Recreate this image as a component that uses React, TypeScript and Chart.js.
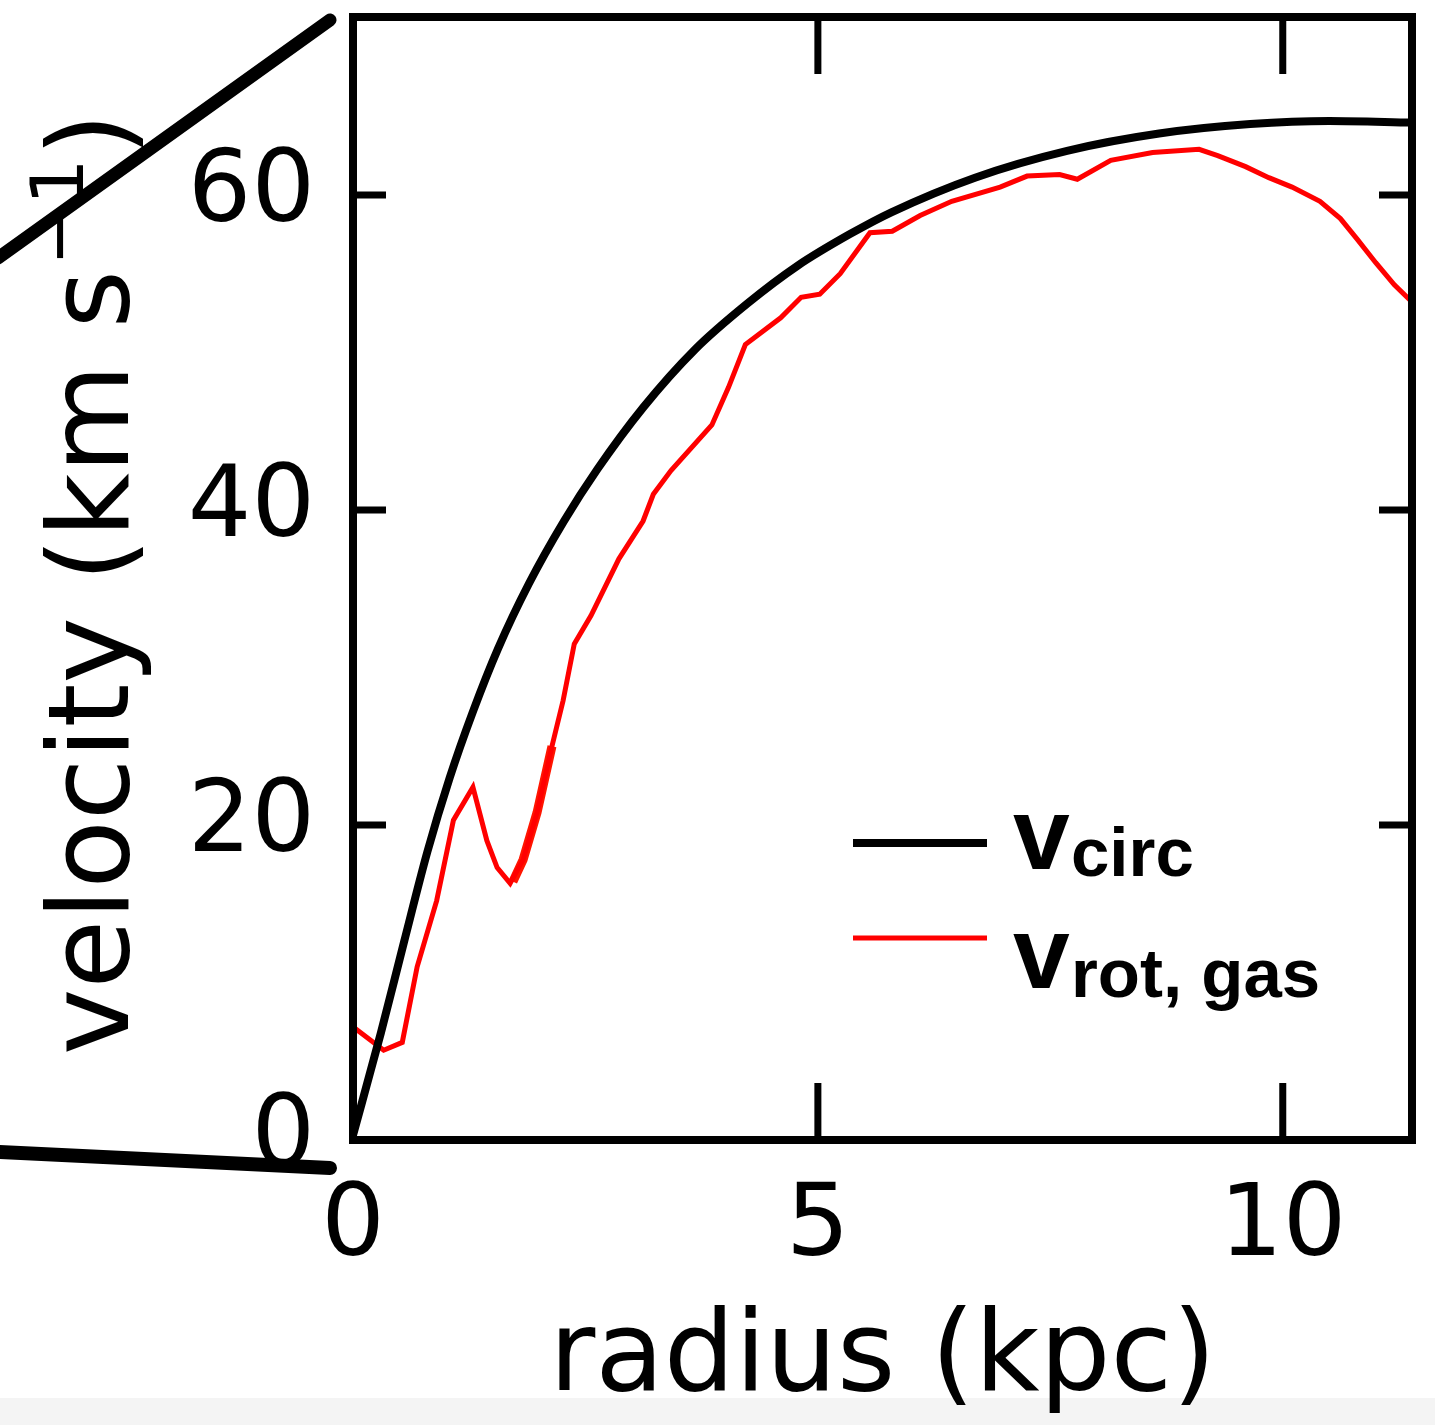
import React, { useEffect, useRef } from "react";
import { Chart, registerables } from "chart.js";

Chart.register(...registerables);

// ---- data ----
const circRadius = [0.0, 0.3, 0.55, 0.8, 1.04, 1.29, 1.56, 1.89, 2.27, 2.63, 3.12, 3.68, 4.24, 4.78, 5.34, 5.79, 6.69, 7.68, 8.67, 9.65, 10.5, 11.39];
const circVelocity = [0.3, 6.8, 12.6, 18.3, 23.0, 27.2, 31.2, 35.3, 39.3, 42.6, 46.5, 50.2, 53.1, 55.5, 57.5, 58.9, 61.1, 62.8, 63.9, 64.5, 64.7, 64.6];

const gasRadius = [0.02, 0.33, 0.53, 0.69, 0.9, 1.08, 1.29, 1.44, 1.55, 1.69, 1.83, 1.98, 2.14, 2.26, 2.38, 2.56, 2.86, 3.12, 3.23, 3.42, 3.86, 4.04, 4.22, 4.6, 4.82, 5.02, 5.24, 5.56, 5.8, 6.1, 6.44, 6.96, 7.25, 7.6, 7.79, 8.15, 8.6, 9.1, 9.3, 9.6, 9.85, 10.1, 10.4, 10.62, 10.8, 11.0, 11.2, 11.39];
const gasVelocity = [7.1, 5.7, 6.2, 11.0, 15.2, 20.3, 22.4, 19.0, 17.3, 16.3, 17.8, 20.8, 25.0, 27.9, 31.5, 33.3, 36.9, 39.3, 41.0, 42.5, 45.4, 47.8, 50.5, 52.2, 53.5, 53.7, 55.0, 57.6, 57.7, 58.7, 59.6, 60.5, 61.2, 61.3, 61.0, 62.2, 62.7, 62.9, 62.5, 61.8, 61.1, 60.5, 59.6, 58.5, 57.2, 55.7, 54.3, 53.2];

// thicker overdrawn piece of the gas curve
const gasThickRadius = [1.72, 1.83, 1.98, 2.14];
const gasThickVelocity = [16.4, 17.8, 20.8, 25.0];

const xTicks = [0, 5, 10];
const yTicks = [0, 20, 40, 60];
const xMin = 0;
const xMax = 11.39;
const yMin = 0;
const yMax = 71.3;

const xTitle = "radius (kpc)";
const yTitleMain = "velocity (km s";
const yTitleSup = "\u22121";
const yTitleEnd = ")";

const legendItems = [
  { main: "v", sub: "circ", color: "#000000", width: 8 },
  { main: "v", sub: "rot, gas", color: "#ff0000", width: 5 },
];

const W = 1435;
const H = 1425;

const decorPlugin = {
  id: "decor",
  beforeDraw(chart: any) {
    const ctx = chart.ctx;
    ctx.save();
    ctx.fillStyle = "#ffffff";
    ctx.fillRect(0, 0, W, H);
    ctx.fillStyle = "#f4f4f4";
    ctx.fillRect(0, 1398, W, H - 1398);
    ctx.restore();
  },
  afterDraw(chart: any) {
    const ctx = chart.ctx;
    const xs = chart.scales.x;
    const ys = chart.scales.y;
    const L = chart.chartArea.left;
    const R = chart.chartArea.right;
    const T = chart.chartArea.top;
    const B = chart.chartArea.bottom;
    ctx.save();
    // ticks (inward on all four sides)
    ctx.strokeStyle = "#000";
    ctx.lineWidth = 7;
    ctx.lineCap = "butt";
    xTicks.forEach((v) => {
      if (v === xMin) return;
      const px = xs.getPixelForValue(v);
      ctx.beginPath();
      ctx.moveTo(px, B);
      ctx.lineTo(px, B - 57);
      ctx.moveTo(px, T);
      ctx.lineTo(px, T + 57);
      ctx.stroke();
    });
    yTicks.forEach((v) => {
      if (v === yMin) return;
      const py = ys.getPixelForValue(v);
      ctx.beginPath();
      ctx.moveTo(L, py);
      ctx.lineTo(L + 33, py);
      ctx.moveTo(R, py);
      ctx.lineTo(R - 33, py);
      ctx.stroke();
    });
    // frame
    ctx.lineWidth = 8;
    ctx.lineJoin = "miter";
    ctx.strokeRect(L, T, R - L, B - T);

    // legend
    const legX0 = 853;
    const legX1 = 987;
    const rows = [
      { y: 843, base: 869, subBase: 876 },
      { y: 938, base: 988, subBase: 997 },
    ];
    legendItems.forEach((it, i) => {
      const r = rows[i];
      ctx.strokeStyle = it.color;
      ctx.lineWidth = it.width;
      ctx.beginPath();
      ctx.moveTo(legX0, r.y);
      ctx.lineTo(legX1, r.y);
      ctx.stroke();
      ctx.fillStyle = "#000";
      ctx.textAlign = "left";
      ctx.textBaseline = "alphabetic";
      ctx.font = "bold 102px 'Liberation Sans', Arial, sans-serif";
      ctx.fillText(it.main, 1013, r.base);
      ctx.font = "bold 69px 'Liberation Sans', Arial, sans-serif";
      ctx.fillText(it.sub, 1071, r.subBase);
    });

    // x title
    ctx.fillStyle = "#000";
    ctx.font = "112px 'DejaVu Sans', sans-serif";
    ctx.textAlign = "center";
    ctx.textBaseline = "alphabetic";
    ctx.fillText(xTitle, (L + R) / 2, 1390);

    // y title (rotated, with superscript)
    ctx.save();
    ctx.translate(128, 1055);
    ctx.rotate(-Math.PI / 2);
    ctx.textAlign = "left";
    ctx.font = "112px 'DejaVu Sans', sans-serif";
    ctx.fillText(yTitleMain, 0, 0);
    let w = ctx.measureText(yTitleMain).width;
    ctx.font = "73px 'DejaVu Sans', sans-serif";
    ctx.fillText(yTitleSup, w + 4, -45);
    w += 4 + ctx.measureText(yTitleSup).width;
    ctx.font = "112px 'DejaVu Sans', sans-serif";
    ctx.fillText(yTitleEnd, w + 2, 0);
    ctx.restore();

    // hand-drawn strokes on the left
    ctx.strokeStyle = "#000";
    ctx.lineCap = "round";
    ctx.lineWidth = 13;
    ctx.beginPath();
    ctx.moveTo(-2, 258);
    ctx.lineTo(330, 20);
    ctx.stroke();
    ctx.lineWidth = 14;
    ctx.beginPath();
    ctx.moveTo(-2, 1152);
    ctx.lineTo(330, 1168);
    ctx.stroke();
    ctx.restore();
  },
};

export default function App() {
  const ref = useRef<HTMLCanvasElement>(null);
  useEffect(() => {
    const canvas = ref.current;
    if (!canvas) return;
    const toPts = (xs: number[], ys: number[]) => xs.map((x, i) => ({ x, y: ys[i] }));
    const chart = new Chart(canvas, {
      type: "line",
      data: {
        datasets: [
          {
            label: "vcirc",
            data: toPts(circRadius, circVelocity),
            borderColor: "#000000",
            borderWidth: 8,
            pointRadius: 0,
            cubicInterpolationMode: "monotone",
            fill: false,
          },
          {
            label: "vrot, gas",
            data: toPts(gasRadius, gasVelocity),
            borderColor: "#ff0000",
            borderWidth: 5,
            pointRadius: 0,
            tension: 0,
            fill: false,
          },
          {
            label: "vrot, gas (overdrawn)",
            data: toPts(gasThickRadius, gasThickVelocity),
            borderColor: "#ff1500",
            borderWidth: 9,
            pointRadius: 0,
            tension: 0,
            fill: false,
          },
        ],
      },
      options: {
        animation: false,
        responsive: false,
        devicePixelRatio: 1,
        layout: { padding: { top: 17, right: 23, left: 0, bottom: 0 } },
        plugins: { legend: { display: false }, tooltip: { enabled: false } },
        scales: {
          x: {
            type: "linear",
            min: xMin,
            max: xMax,
            grid: { display: false, drawTicks: false },
            border: { display: false },
            afterBuildTicks: (s: any) => {
              s.ticks = xTicks.map((v) => ({ value: v }));
            },
            afterFit: (s: any) => {
              s.height = H - 1140;
              s.paddingLeft = 0;
              s.paddingRight = 0;
            },
            ticks: {
              color: "#000",
              padding: 29,
              maxRotation: 0,
              autoSkip: false,
              font: { family: "'DejaVu Sans', sans-serif", size: 100 },
              callback: (v: any) => String(v),
            },
          },
          y: {
            type: "linear",
            min: yMin,
            max: yMax,
            grid: { display: false, drawTicks: false },
            border: { display: false },
            afterBuildTicks: (s: any) => {
              s.ticks = yTicks.map((v) => ({ value: v }));
            },
            afterFit: (s: any) => {
              s.width = 353;
              s.paddingTop = 0;
              s.paddingBottom = 0;
            },
            ticks: {
              color: "#000",
              padding: 38,
              autoSkip: false,
              font: { family: "'DejaVu Sans', sans-serif", size: 100 },
              callback: (v: any) => String(v),
            },
          },
        },
      },
      plugins: [decorPlugin],
    });
    return () => chart.destroy();
  }, []);
  return (
    <div style={{ position: "fixed", left: 0, top: 0, width: W, height: H, background: "#fff" }}>
      <canvas ref={ref} width={W} height={H} style={{ display: "block", width: W, height: H }} />
    </div>
  );
}
